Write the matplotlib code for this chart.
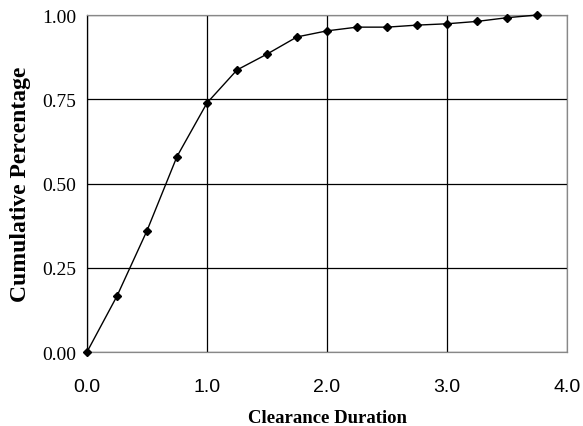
import numpy as np
import matplotlib
matplotlib.use('Agg')
import matplotlib.pyplot as plt

# DATA
duration = [0.0, 0.25, 0.5, 0.75, 1.0, 1.25, 1.5, 1.75, 2.0,
            2.25, 2.5, 2.75, 3.0, 3.25, 3.5, 3.75]
cum_pct = [0.0, 0.166, 0.36, 0.58, 0.739, 0.837, 0.884, 0.935, 0.953,
           0.964, 0.964, 0.970, 0.974, 0.981, 0.992, 1.0]
xticks = [0.0, 1.0, 2.0, 3.0, 4.0]
yticks = [0.0, 0.25, 0.5, 0.75, 1.0]

fig = plt.figure(figsize=(5.83, 4.27), dpi=100)
ax = fig.add_axes([0.1492, 0.1733, 0.8234, 0.7892])

ax.plot(duration, cum_pct, color='black', linewidth=1.0,
        marker='D', markersize=4.5, markerfacecolor='black',
        markeredgecolor='black', zorder=3, clip_on=False)

ax.set_xlim(0, 4)
ax.set_ylim(0, 1)
ax.set_xticks(xticks)
ax.set_yticks(yticks)
ax.set_xticklabels(['%.1f' % v for v in xticks],
                   fontfamily='Liberation Sans', fontsize=14)
ax.set_yticklabels(['%.2f' % v for v in yticks],
                   fontfamily='Liberation Serif', fontsize=14)
ax.tick_params(axis='x', length=0, pad=19)
ax.tick_params(axis='y', length=0, pad=8)

ax.grid(True, color='black', linewidth=0.9)
for s in ax.spines.values():
    s.set_color('#888888')
    s.set_linewidth(0.9)
ax.spines['left'].set_color('black')

ax.set_xlabel('Clearance Duration', fontfamily='Liberation Serif',
              fontweight='bold', fontsize=13.5, labelpad=10)
ax.set_ylabel('Cumulative Percentage', fontfamily='Liberation Serif',
              fontweight='bold', fontsize=17, labelpad=8)

plt.savefig('out.png', dpi=100)
